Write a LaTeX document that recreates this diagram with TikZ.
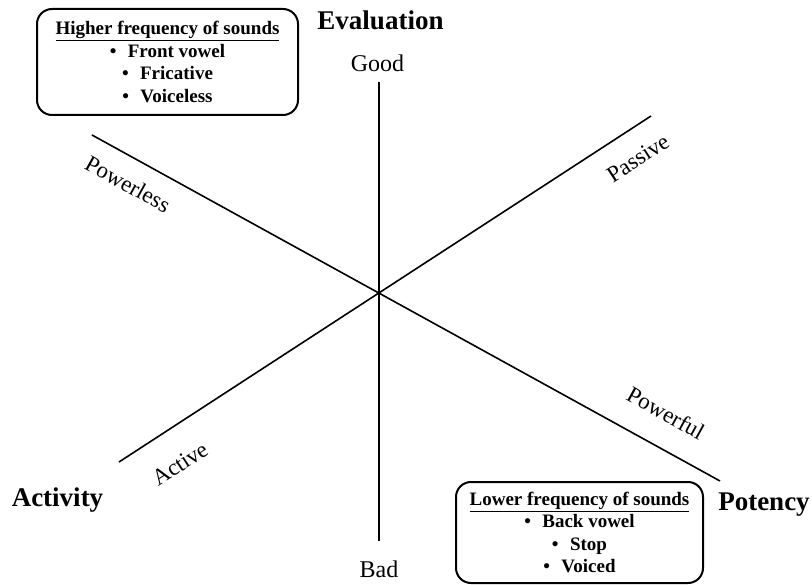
\documentclass[tikz,border=0pt]{standalone}
\usepackage{fontspec}
\setmainfont{Liberation Serif}
\begin{document}
\begin{tikzpicture}[x=1pt,y=1pt,
  axis/.style={line width=1.6pt, black},
  dimlabel/.style={font=\fontsize{27}{30}\selectfont\bfseries, anchor=base, inner sep=0pt},
  polelabel/.style={font=\fontsize{23}{27}\selectfont, inner sep=0pt},
  soundbox/.style={draw, line width=2pt, rounded corners=15pt, align=center,
    font=\fontsize{19}{22.5}\selectfont\bfseries, inner sep=0pt}]
\useasboundingbox (0,0) rectangle (812,-585);
% axis end points
\coordinate (vtop) at (379,-82);
\coordinate (vbot) at (379,-541);
\coordinate (pless) at (92,-135);
\coordinate (pful) at (720,-481);
\coordinate (act) at (119,-462);
\coordinate (pas) at (651,-116);
\draw[axis] (vtop) -- (vbot);
\draw[axis] (pless) -- (pful);
\draw[axis] (act) -- (pas);
% dimension labels
\node[dimlabel] (evaluation) at (380.5,-30) {Evaluation};
\node[dimlabel] (activity) at (57.5,-506) {Activity};
\node[dimlabel] (potency) at (764,-511) {Potency};
% pole labels
\node[polelabel, anchor=base, font=\fontsize{24}{28}\selectfont] (good) at (377.5,-72) {Good};
\node[polelabel, anchor=base, font=\fontsize{24}{28}\selectfont] (bad) at (379,-577) {Bad};
\node[polelabel, rotate=-28.85] (powerless) at (128,-184) {Powerless};
\node[polelabel, rotate=-28.85] (powerful) at (666,-413) {Powerful};
\node[polelabel, rotate=33] (passive) at (638,-158) {Passive};
\node[polelabel, rotate=33] (active) at (180,-464) {Active};
% sound boxes
\node[soundbox, minimum width=261pt, minimum height=106pt] (high) at (167.5,-62)
  {\underline{Higher frequency of sounds}\\
   \textbullet\hspace{0.6em}Front vowel\\
   \textbullet\hspace{0.6em}Fricative\\
   \textbullet\hspace{0.6em}Voiceless};
\node[soundbox, minimum width=247pt, minimum height=101pt] (low) at (579.5,-532.5)
  {\underline{Lower frequency of sounds}\\
   \textbullet\hspace{0.6em}Back vowel\\
   \textbullet\hspace{0.6em}Stop\\
   \textbullet\hspace{0.6em}Voiced};
\end{tikzpicture}
\end{document}
